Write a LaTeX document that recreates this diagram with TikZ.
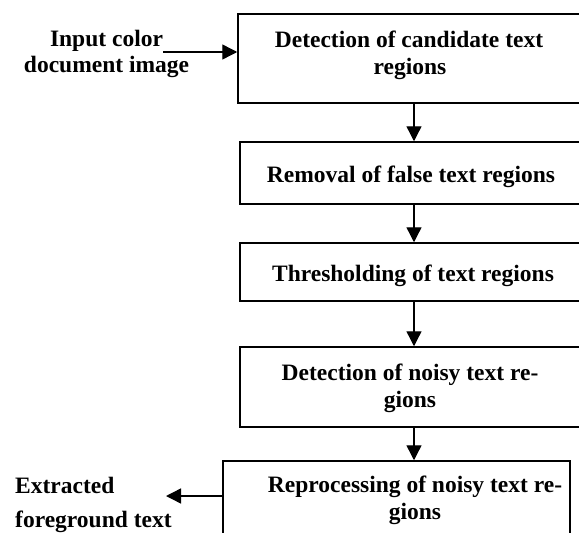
\documentclass[tikz,border=0pt]{standalone}
\usepackage{fontspec}
\setmainfont{Liberation Serif}
\usetikzlibrary{arrows.meta}
\begin{document}
\begin{tikzpicture}[x=1pt,y=-1pt,
  box/.style={draw,line width=1.5pt,inner sep=0pt},
  lbl/.style={anchor=base,inner sep=0pt,font=\fontsize{23.5}{28}\selectfont\bfseries},
  lblw/.style={lbl,anchor=base west},
  conn/.style={line width=1.4pt,-{Triangle[length=15pt,width=15pt]}}]
\useasboundingbox (0,0) rectangle (579,533);
% boxes
\node[box,minimum width=352pt,minimum height=89pt] (b1) at (414,58.5) {};
\node[box,minimum width=348pt,minimum height=62pt] (b2) at (414,173) {};
\node[box,minimum width=348pt,minimum height=58pt] (b3) at (414,272) {};
\node[box,minimum width=348pt,minimum height=80pt] (b4) at (414,387) {};
\node[box,minimum width=347pt,minimum height=84pt] (b5) at (396.5,503) {};
% box texts
\node[lbl] (t1a) at (409,47) {Detection of candidate text};
\node[lbl] (t1b) at (410,74) {regions};
\node[lbl] (t2) at (411,182) {Removal of false text regions};
\node[lbl] (t3) at (413,281) {Thresholding of text regions};
\node[lbl] (t4a) at (410,380) {Detection of noisy text re-};
\node[lbl] (t4b) at (410,407) {gions};
\node[lbl] (t5a) at (415,492) {Reprocessing of noisy text re-};
\node[lbl] (t5b) at (415,519) {gions};
% input / output labels
\node[lbl] (ina) at (106.5,46.7) {Input color};
\node[lbl] (inb) at (106.5,72.7) {document image};
\node[lblw] (outa) at (15,493) {Extracted};
\node[lblw] (outb) at (15,527) {foreground text};
% connectors
\coordinate (inS) at (163,52);
\coordinate (outE) at (166,496);
\draw[conn] (inS) -- (inS -| b1.west);
\draw[conn] (b1.south) -- (b2.north);
\draw[conn] (b2.south) -- (b3.north);
\draw[conn] (b3.south) -- (b4.north);
\draw[conn] (b4.south) -- (b4.south |- b5.north);
\draw[conn] (outE -| b5.west) -- (outE);
\end{tikzpicture}
\end{document}
